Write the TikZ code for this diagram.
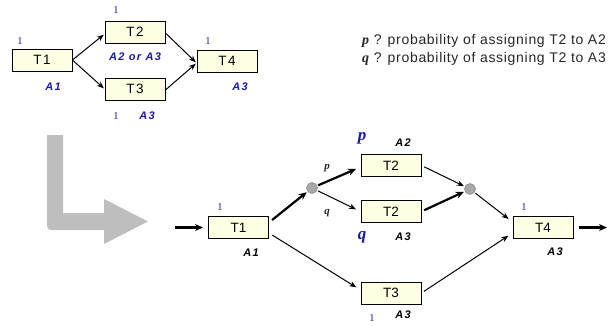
\documentclass[tikz,border=0pt]{standalone}
\usepackage{fontspec}
\setmainfont{Liberation Sans}
\newfontfamily\serifx{Liberation Serif}
\newfontfamily\spacedA[LetterSpace=12]{Liberation Sans}
\newfontfamily\spacedB[LetterSpace=12]{Liberation Sans}
\newfontfamily\spacedL[LetterSpace=5]{Liberation Sans}
\usetikzlibrary{arrows.meta,calc}
\definecolor{cream}{RGB}{255,255,228}
\definecolor{dblue}{RGB}{26,26,160}
\definecolor{lgray}{RGB}{190,190,190}
\definecolor{cgray}{RGB}{168,168,168}
\begin{document}
\begin{tikzpicture}[x=1pt,y=-1pt,
  taskbox/.style={draw=black,line width=0.9pt,fill=cream,minimum width=60pt,minimum height=22pt,inner sep=0pt,font=\fontsize{13.5}{13.5}\selectfont},
  toptask/.style={taskbox,font=\spacedB\fontsize{13.5}{13.5}\selectfont},
  onelab/.style={font=\serifx\fontsize{10.5}{10.5}\selectfont,text=dblue,inner sep=0pt},
  alabtop/.style={font=\spacedA\bfseries\itshape\fontsize{11}{11}\selectfont,text=dblue,inner sep=0pt},
  alab/.style={font=\spacedA\bfseries\itshape\fontsize{11}{11}\selectfont,text=black,inner sep=0pt},
  bigpq/.style={font=\serifx\bfseries\itshape\fontsize{17}{17}\selectfont,text=dblue,inner sep=0pt},
  smallpq/.style={font=\serifx\bfseries\itshape\fontsize{11}{11}\selectfont,text=black!85,inner sep=0pt},
  legend/.style={font=\spacedL\fontsize{14}{14}\selectfont,text=black!85,anchor=west,inner sep=0pt},
  junction/.style={circle,fill=cgray,draw=gray,line width=0.5pt,minimum size=11pt,inner sep=0pt},
  arr/.style={-{Stealth[length=7pt,width=5.5pt]},line width=1pt},
  thickarr/.style={-{Stealth[length=8pt,width=7pt]},line width=2.2pt},
  thinarr/.style={-{Stealth[length=7pt,width=5.5pt]},line width=1pt}]
\useasboundingbox (0,0) rectangle (612,325);

% ---------- top diagram ----------
\node[toptask] (at1) at (42,60) {T1};
\node[toptask] (at2) at (135,32) {T2};
\node[toptask] (at3) at (135,89) {T3};
\node[toptask] (at4) at (227,61) {T4};
\node[onelab] (o1) at (20,41) {1};
\node[onelab] (o2) at (116,10) {1};
\node[onelab] (o3) at (116,116) {1};
\node[onelab] (o4) at (208,41) {1};
\node[alabtop] (a1) at (53,87) {A1};
\node[alabtop] (a2) at (135,57) {A2 or A3};
\node[alabtop] (a3) at (147,116) {A3};
\node[alabtop] (a4) at (240,87) {A3};
\draw[arr,shorten >=1pt] (at1.east) -- ([yshift=-2pt]at2.west);
\draw[arr,shorten >=1pt] (at1.east) -- (at3.west);
\draw[arr,shorten >=1pt] ([yshift=-1pt]at2.east) -- ([yshift=-2pt]at4.west);
\draw[arr,shorten >=1pt] ([yshift=-1pt]at3.east) -- ([yshift=-2pt]at4.west);

% ---------- legend ----------
\node[legend] (l1) at (362,41) {{\serifx\bfseries\itshape p} ? probability of assigning T2 to A2};
\node[legend] (l2) at (362,59) {{\serifx\bfseries\itshape q} ? probability of assigning T2 to A3};

% ---------- big gray arrow ----------
\fill[lgray] (47,135) -- (63,135) -- (63,213) -- (104,213) -- (104,199) -- (148,221.5) -- (104,244) -- (104,230) -- (51,230) arc[start angle=90,end angle=180,radius=4] -- cycle;

% ---------- bottom diagram ----------
\node[taskbox] (b1) at (238.5,227.5) {T1};
\node[taskbox] (b2a) at (391,165.5) {T2};
\node[taskbox] (b2b) at (391,211.5) {T2};
\node[taskbox] (b3) at (391,293) {T3};
\node[taskbox] (b4) at (543,227.5) {T4};
\node[junction] (c1) at (312,188) {};
\node[junction] (c2) at (470,189) {};
\coordinate (in) at (175,227.5);
\coordinate (out) at (607,227.5);
\node[onelab] (bo1) at (220,207) {1};
\node[onelab] (bo3) at (372,318) {1};
\node[onelab] (bo4) at (524,207) {1};
\node[alab] (ba1) at (251,253) {A1};
\node[alab] (ba2) at (403,143) {A2};
\node[alab] (ba2b) at (403,237) {A3};
\node[alab] (ba3) at (403,315) {A3};
\node[alab] (ba4) at (555,252) {A3};
\node[bigpq] (pp) at (362,138) {p};
\node[bigpq] (qq) at (362,237) {q};
\node[smallpq] (sp) at (327,168) {p};
\node[smallpq] (sq) at (327,213) {q};

\draw[thickarr,shorten >=5pt] (in) -- (b1.west);
\draw[thickarr,shorten <=4pt,shorten >=1pt] ([yshift=5pt]b1.east) -- (c1);
\draw[thickarr,shorten <=1pt,shorten >=5pt] (c1) -- ([yshift=-1.5pt]b2a.west);
\draw[thinarr,shorten <=1pt,shorten >=5pt] (c1) -- (b2b.west);
\draw[thinarr,shorten <=4pt,shorten >=5pt] ([yshift=-5.5pt]b1.east) -- ([yshift=3pt]b3.west);
\draw[thinarr,shorten <=3pt,shorten >=1pt] (b2a.east) -- (c2);
\draw[thickarr,shorten <=3pt,shorten >=1pt] (b2b.east) -- (c2);
\draw[thinarr,shorten <=1pt,shorten >=5pt] (c2) -- ([yshift=5.5pt]b4.west);
\draw[thinarr,shorten <=3pt,shorten >=5pt] (b3.east) -- ([yshift=-5.5pt]b4.west);
\draw[thickarr,shorten <=6pt] (b4.east) -- (out);
\end{tikzpicture}
\end{document}
